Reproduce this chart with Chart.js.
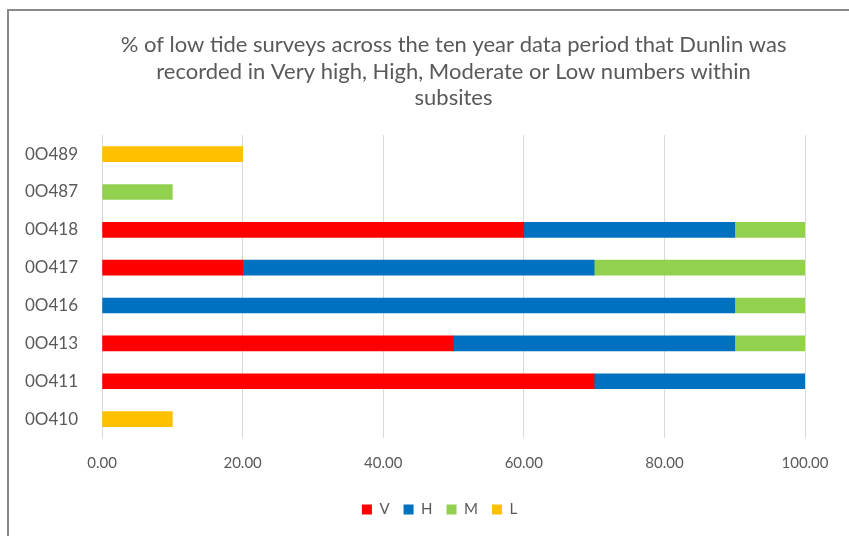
<!DOCTYPE html>
<html>
<head>
<meta charset="utf-8">
<script src="https://cdn.jsdelivr.net/npm/chart.js@4"></script>
<style>
  html, body { margin: 0; padding: 0; background: #fff; overflow: hidden; }
  #frame {
    position: absolute; left: 7px; top: 9px; width: 900px; height: 540px;
    border-top: 2px solid #8a8a8a; border-left: 2px solid #8a8a8a;
  }
  #wrap { position: absolute; left: 0; top: 0; width: 840px; height: 520px; }
</style>
</head>
<body>
<div id="frame"><div id="wrap"><canvas id="chart"></canvas></div></div>
<script>
// ===== Dados =====
// null = sem registro naquela categoria
const subsites = ['0O489', '0O487', '0O418', '0O417', '0O416', '0O413', '0O411', '0O410'];
const veryHigh = [null, null, 60, 20, null, 50, 70, null];
const high     = [null, null, 30, 50, 90, 40, 30, null];
const moderate = [null, 10, 10, 30, 10, 10, null, null];
const low      = [20, null, null, null, null, null, null, 10];
const xTicks   = [0, 20, 40, 60, 80, 100];

const titleLines = [
  '% of low tide surveys across the ten year data period that Dunlin was',
  'recorded in Very high, High, Moderate or Low numbers within',
  'subsites'
];

const textColor = '#595959';
const fontFamily = 'Lato, "Open Sans", sans-serif';

function series(label, data, color) {
  return {
    label: label,
    data: data,
    backgroundColor: color,
    borderWidth: 0,
    barThickness: 15
  };
}

// Legenda um pouco à esquerda do centro, como no original
const shiftLegend = {
  id: 'shiftLegend',
  afterLayout(chart) {
    if (chart.legend) {
      chart.legend.left -= 14;
      chart.legend.right -= 14;
    }
  }
};

new Chart(document.getElementById('chart'), {
  type: 'bar',
  data: {
    labels: subsites,
    datasets: [
      series('V', veryHigh, '#FF0000'),
      series('H', high, '#0070C0'),
      series('M', moderate, '#92D050'),
      series('L', low, '#FFC000')
    ]
  },
  options: {
    indexAxis: 'y',
    responsive: true,
    maintainAspectRatio: false,
    animation: false,
    layout: { padding: { left: 0, right: 44, top: 0, bottom: 4 } },
    plugins: {
      title: {
        display: true,
        fullSize: false,
        text: titleLines,
        color: textColor,
        font: { family: fontFamily, size: 22, weight: 'normal', lineHeight: 1.2 },
        padding: { top: 21, bottom: 24 }
      },
      legend: {
        position: 'bottom',
        fullSize: false,
        labels: {
          color: textColor,
          boxWidth: 10,
          boxHeight: 10,
          padding: 14,
          font: { family: fontFamily, size: 15 }
        }
      },
      tooltip: { enabled: false }
    },
    scales: {
      x: {
        stacked: true,
        min: 0,
        max: 100,
        afterBuildTicks: axis => { axis.ticks = xTicks.map(v => ({ value: v })); },
        grid: { color: '#d9d9d9', drawTicks: false },
        border: { display: false },
        ticks: {
          color: textColor,
          padding: 16,
          font: { family: fontFamily, size: 15 },
          callback: v => Number(v).toFixed(2)
        }
      },
      y: {
        stacked: true,
        grid: { display: false },
        border: { display: false },
        ticks: {
          color: textColor,
          padding: 16,
          font: { family: fontFamily, size: 17 }
        }
      }
    }
  },
  plugins: [shiftLegend]
});
</script>
</body>
</html>
